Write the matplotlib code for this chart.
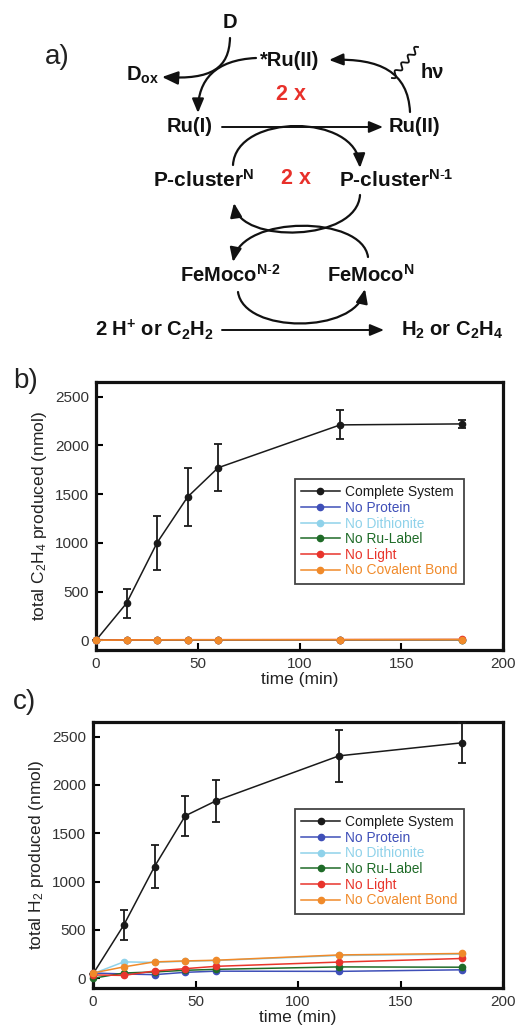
import numpy as np
import matplotlib
matplotlib.use("Agg")
import matplotlib.pyplot as plt
from matplotlib.patches import FancyArrowPatch
from matplotlib.path import Path

plt.rcParams['font.family'] = ['Liberation Sans', 'DejaVu Sans']
plt.rcParams['mathtext.fontset'] = 'custom'
plt.rcParams['mathtext.rm'] = 'Liberation Sans'
plt.rcParams['mathtext.it'] = 'Liberation Sans:italic'
plt.rcParams['mathtext.bf'] = 'Liberation Sans:bold'

# ---------------- data ----------------
time_min = [0, 15, 30, 45, 60, 120, 180]
series_names = ["Complete System", "No Protein", "No Dithionite",
                "No Ru-Label", "No Light", "No Covalent Bond"]
series_colors = ["#1a1a1a", "#3f4fb8", "#8fd2ea", "#1f6b28", "#e8342c", "#f08a2a"]

# panel b: C2H4
c2h4_complete = [0, 380, 1000, 1470, 1770, 2210, 2220]
c2h4_complete_err = [0, 150, 280, 300, 240, 150, 45]
c2h4_no_protein = [0, 2, 3, 3, 4, 4, 5]
c2h4_no_dithionite = [0, 2, 3, 3, 4, 5, 5]
c2h4_no_ru_label = [0, 3, 3, 4, 4, 5, 6]
c2h4_no_light = [0, 4, 5, 6, 6, 7, 8]
c2h4_no_covalent = [0, 3, 4, 5, 5, 6, 7]

# panel c: H2
h2_complete = [45, 550, 1155, 1680, 1835, 2300, 2435]
h2_complete_err = [0, 155, 225, 210, 215, 270, 205]
h2_no_protein = [55, 45, 38, 62, 74, 72, 88]
h2_no_dithionite = [48, 170, 165, 176, 184, 236, 250]
h2_no_ru_label = [0, 55, 66, 83, 93, 118, 115]
h2_no_light = [35, 30, 76, 100, 124, 168, 205]
h2_no_covalent = [55, 118, 170, 180, 187, 242, 257]

W, H = 518, 1028
fig = plt.figure(figsize=(W / 100, H / 100), dpi=100)

# ---------------- overlay for scheme ----------------
ov = fig.add_axes([0, 0, 1, 1])
ov.set_xlim(0, W)
ov.set_ylim(H, 0)
ov.axis('off')
ov.set_facecolor('none')

FS = 14.5
bold = dict(fontweight='bold', fontsize=FS, ha='center', va='center', color='#111')

ov.text(57, 57, "a)", fontsize=20, ha='center', va='center', color='#222')
ov.text(26, 381, "b)", fontsize=20, ha='center', va='center', color='#222')
ov.text(24, 702, "c)", fontsize=20, ha='center', va='center', color='#222')

ov.text(230, 22, "D", **bold)
ov.text(290, 61, "*Ru(II)", **bold)
ov.text(143, 75, r"D$_{\mathbf{ox}}$", **bold)
ov.text(432, 72, "hν", **bold)
ov.text(291, 95, "2 x", fontweight='bold', fontsize=FS + 1, ha='center', va='center', color='#e8302a')
ov.text(190, 127, "Ru(I)", **bold)
ov.text(414, 127, "Ru(II)", **bold)
ov.text(204, 180, r"P-cluster$^{\mathbf{N}}$", fontweight='bold', fontsize=FS + 0.5,
        ha='center', va='center', color='#111')
ov.text(296, 178, "2 x", fontweight='bold', fontsize=FS + 1, ha='center', va='center', color='#e8302a')
ov.text(396, 180, r"P-cluster$^{\mathbf{N\text{-}1}}$", fontweight='bold', fontsize=FS + 0.5,
        ha='center', va='center', color='#111')
ov.text(230, 275, r"FeMoco$^{\mathbf{N\text{-}2}}$", **bold)
ov.text(371, 275, r"FeMoco$^{\mathbf{N}}$", **bold)
ov.text(154, 330, r"2 H$^{\mathbf{+}}$ or C$_{\mathbf{2}}$H$_{\mathbf{2}}$", **bold)
ov.text(452, 330, r"H$_{\mathbf{2}}$ or C$_{\mathbf{2}}$H$_{\mathbf{4}}$", **bold)

AS = '-|>,head_length=0.6,head_width=0.25'


def curve(pts, lw=1.6, ms=14, style=AS):
    codes = [Path.MOVETO] + [Path.CURVE4] * (len(pts) - 1)
    p = Path(pts, codes)
    a = FancyArrowPatch(path=p, arrowstyle=style, mutation_scale=ms, lw=lw,
                        color='#111', transform=ov.transData)
    ov.add_patch(a)


def straight(x0, y0, x1, y1, lw=1.4, ms=14):
    a = FancyArrowPatch((x0, y0), (x1, y1), arrowstyle=AS, mutation_scale=ms, lw=lw,
                        color='#111', shrinkA=0, shrinkB=0, transform=ov.transData)
    ov.add_patch(a)


# Ru(I) -> Ru(II)
straight(222, 127, 383, 127)
# substrate -> product
straight(222, 330, 384, 330)
# *Ru(II) -> Ru(I)
curve([(256, 58), (215, 60), (198, 80), (198, 113)])
# D -> D_ox
curve([(230, 38), (229, 68), (212, 80), (162, 77)], ms=16)
# Ru(II) -> *Ru(II)
curve([(410, 112), (408, 72), (380, 58), (329, 60)])
# upper middle arc Ru(I) -> P-cluster^N-1
curve([(233, 165), (236, 113), (357, 113), (360, 168)])
# P-cluster^N-1 -> P-cluster^N
curve([(360, 195), (357, 242), (240, 244), (234, 203)])
# FeMoco^N -> FeMoco^N-2
curve([(368, 257), (362, 215), (242, 215), (233, 262)])
# FeMoco^N-2 -> FeMoco^N
curve([(238, 292), (244, 334), (355, 334), (365, 289)])

# wavy hv line
s = np.linspace(0, 1, 200)
x0, y0, x1, y1 = 392, 78, 418, 47
dx, dy = x1 - x0, y1 - y0
L = np.hypot(dx, dy)
nx, ny = -dy / L, dx / L
amp = 2.6 * np.sin(2 * np.pi * 4 * s)
ov.plot(x0 + dx * s + nx * amp, y0 + dy * s + ny * amp, color='#111', lw=1.3)

# ---------------- charts ----------------
def make_chart(rect, ylabel, series, err):
    ax = fig.add_axes(rect)
    for i, (name, vals) in enumerate(zip(series_names, series)):
        col = series_colors[i]
        if i == 0:
            ax.errorbar(time_min, vals, yerr=err, fmt='none', ecolor=col,
                        capsize=3, elinewidth=1.3, capthick=1.3, clip_on=False, zorder=3)
        ax.plot(time_min, vals, color=col, lw=1.1, marker='o', ms=4.5, label=name,
                clip_on=False, zorder=3 + i)
    ax.set_xlim(0, 200)
    ax.set_ylim(-100, 2650)
    ax.set_xticks([0, 50, 100, 150, 200])
    ax.set_yticks([0, 500, 1000, 1500, 2000, 2500])
    ax.tick_params(direction='in', length=5, width=1.5, labelsize=11, pad=5,
                   labelcolor='#333', top=False, right=False)
    for sp in ax.spines.values():
        sp.set_linewidth(2.3)
        sp.set_color('#111')
    ax.set_xlabel("time (min)", fontsize=12.5, color='#222', labelpad=1)
    ax.set_ylabel(ylabel, fontsize=12.5, color='#222', labelpad=4)
    return ax


ax_b = make_chart([96 / W, 1 - 650 / H, 407 / W, 268 / H],
                  r"total C$_2$H$_4$ produced (nmol)",
                  [c2h4_complete, c2h4_no_protein, c2h4_no_dithionite, c2h4_no_ru_label,
                   c2h4_no_light, c2h4_no_covalent], c2h4_complete_err)
ax_c = make_chart([93 / W, 1 - 988 / H, 410 / W, 266 / H],
                  r"total H$_2$ produced (nmol)",
                  [h2_complete, h2_no_protein, h2_no_dithionite, h2_no_ru_label,
                   h2_no_light, h2_no_covalent], h2_complete_err)


def legend(ax, anchor):
    handles, labels = ax.get_legend_handles_labels()
    leg = ax.legend(handles, labels, loc='upper left', bbox_to_anchor=anchor,
                    fontsize=9.9, frameon=True, fancybox=False, framealpha=1,
                    edgecolor='#444', handlelength=2.8, handletextpad=0.4,
                    labelspacing=0.12, borderpad=0.45, borderaxespad=0)
    leg.get_frame().set_linewidth(1.3)
    for txt, col in zip(leg.get_texts(), series_colors):
        txt.set_color(col)


legend(ax_b, (0.489, 0.638))
legend(ax_c, (0.493, 0.673))

fig.savefig("out.png", dpi=100)
